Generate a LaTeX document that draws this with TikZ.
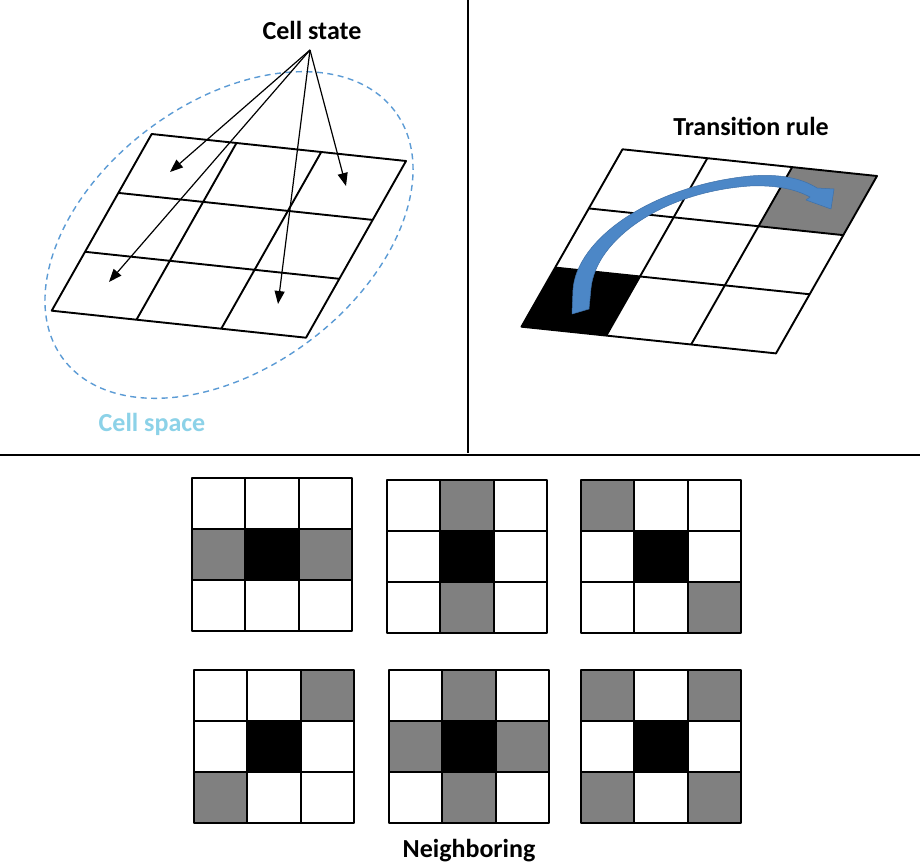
\documentclass[tikz,border=0pt]{standalone}
\usepackage{fontspec}
\setmainfont{Carlito}
\usetikzlibrary{arrows.meta}

\definecolor{cellgray}{RGB}{128,128,128}
\definecolor{ellblue}{RGB}{91,155,213}
\definecolor{spaceblue}{RGB}{140,210,232}
\definecolor{arrowblue}{RGB}{76,135,199}
\definecolor{arrowedge}{RGB}{62,112,168}

\tikzset{
  gridline/.style={line width=1.9pt, line join=round},
  sepline/.style={line width=1.3pt},
  statearrow/.style={line width=1.2pt, -{Triangle[length=13pt,width=10pt]}},
  cspace/.style={ellblue, line width=1.4pt, dash pattern=on 6pt off 4.5pt},
  title/.style={font=\bfseries\fontsize{26}{30}\selectfont, inner sep=0pt},
}

% 3x3 neighbourhood grid: top-left corner (#1,#2), gray cells given as col/row
\newcommand\nbgrid[3]{%
  \begin{scope}[shift={(#1pt,-#2pt)}, x={(53.33pt,0pt)}, y={(0pt,-51pt)}]
    \foreach \c/\r in {#3} \fill[cellgray] (\c,\r) rectangle ++(1,1);
    \fill[black] (1,1) rectangle (2,2);
    \foreach \i in {1,2} {
      \draw[gridline] (\i,0) -- (\i,3);
      \draw[gridline] (0,\i) -- (3,\i);
    }
    \draw[gridline] (0,0) rectangle (3,3);
  \end{scope}}

\begin{document}
\begin{tikzpicture}[x=1pt, y=-1pt]
  \useasboundingbox (0,0) rectangle (920,864);
  \fill[white] (0,0) rectangle (920,864);

  % panel separators
  \draw[sepline] (468,0) -- (468,453);
  \draw[sepline] (0,455) -- (920,455);

  % ---- cell space with cell states ----
  \draw[cspace, rotate around={36.7:(229,235)}] (229,235) ellipse [x radius=207pt, y radius=133pt];

  \begin{scope}[shift={(151.7pt,-134pt)}, x={(84.77pt,-9pt)}, y={(-33.33pt,-58.9pt)}]
    \foreach \i in {1,2} {
      \draw[gridline] (\i,0) -- (\i,3);
      \draw[gridline] (0,\i) -- (3,\i);
    }
    \draw[gridline] (0,0) -- (3,0) -- (3,3) -- (0,3) -- cycle;
  \end{scope}

  \node[title] (cellstate) at (312,30) {Cell state};
  \coordinate (apex) at (310,50);
  \coordinate (s1) at (170,172);
  \coordinate (s2) at (346,186);
  \coordinate (s3) at (109,282);
  \coordinate (s4) at (278,304);
  \foreach \t in {s1,s2,s3,s4} \draw[statearrow] (apex) -- (\t);

  \node[title, text=spaceblue] (cellspace) at (152,424) {Cell space};

  % ---- transition rule ----
  \begin{scope}[shift={(622.5pt,-149.3pt)}, x={(84.83pt,-8.9pt)}, y={(-33.67pt,-59.13pt)}]
    \fill[black] (0,2) -- (1,2) -- (1,3) -- (0,3) -- cycle;
    \fill[cellgray] (2,0) -- (3,0) -- (3,1) -- (2,1) -- cycle;
    \foreach \i in {1,2} {
      \draw[gridline] (\i,0) -- (\i,3);
      \draw[gridline] (0,\i) -- (3,\i);
    }
    \draw[gridline] (0,0) -- (3,0) -- (3,3) -- (0,3) -- cycle;
  \end{scope}

  \fill[arrowblue, draw=arrowedge, line width=0.5pt, line join=round]
    (572,314) -- (573,290)
    .. controls (576,240) and (650,186) .. (750,176)
    .. controls (786,173) and (806,181) .. (817,188)
    -- (834,189) -- (831,209) -- (806,200) -- (810,197)
    .. controls (795,189) and (776,185) .. (750,186)
    .. controls (662,192) and (596,240) .. (591,288)
    -- (589,309) -- cycle;

  \node[title] (transrule) at (751,126) {Transition rule};

  % ---- neighbourhoods ----
  \nbgrid{192}{478}{0/1,2/1}
  \nbgrid{387}{480}{1/0,1/2}
  \nbgrid{581}{480}{0/0,2/2}
  \nbgrid{194}{670}{2/0,0/2}
  \nbgrid{389}{670}{1/0,0/1,2/1,1/2}
  \nbgrid{581}{670}{0/0,2/0,0/2,2/2}

  \node[title] (neighboring) at (469,851) {Neighboring};
\end{tikzpicture}
\end{document}
